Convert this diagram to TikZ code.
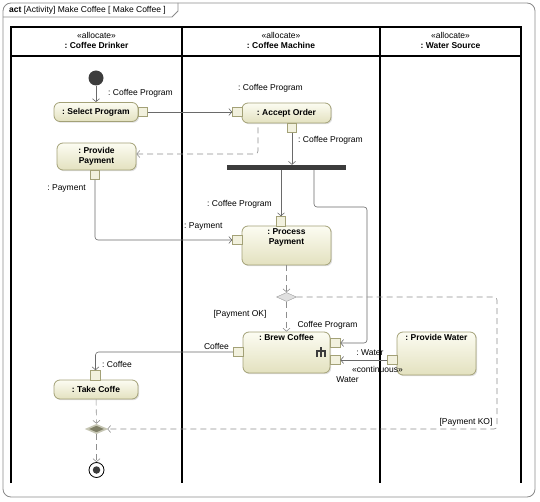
\documentclass[tikz,border=0pt]{standalone}
\usepackage{fontspec}
\setmainfont{Liberation Sans}
\usetikzlibrary{arrows.meta, positioning, shapes.geometric, shadows}
\definecolor{actlight}{HTML}{FCFCF2}
\definecolor{actdark}{HTML}{E3E1BF}
\definecolor{actedge}{HTML}{A3A177}
\definecolor{flowgray}{HTML}{6A6A6A}
\definecolor{ctrlgray}{HTML}{8E8E8E}
\definecolor{framegray}{HTML}{8A8A8A}
\definecolor{nodedark}{HTML}{3C3C3C}
\definecolor{mergedark}{HTML}{7E7E66}
\definecolor{mergeedge}{HTML}{C6C6B4}
\frenchspacing

\begin{document}
\begin{tikzpicture}[x=1pt, y=-1pt,
  every node/.style={font=\fontsize{8.5}{9.5}\selectfont, inner sep=1pt},
  action/.style={rectangle, rounded corners=6pt, top color=actlight, bottom color=actdark,
    draw=actedge, line width=0.8pt, drop shadow={shadow xshift=1.2pt, shadow yshift=-1.2pt, fill=black!25},
    font=\bfseries\fontsize{8.5}{9.5}\selectfont, align=center},
  toptext/.style={label={[anchor=north, yshift=-2pt, align=center,
    font=\bfseries\fontsize{8.5}{9.5}\selectfont]north:{#1}}},
  pin/.style={rectangle, minimum size=9.5pt, inner sep=0pt, fill=actlight!60!actdark, draw=actedge, line width=0.6pt},
  flow/.style={draw=flowgray, line width=0.6pt, rounded corners=3pt, -{Straight Barb[length=3pt,width=7pt]}},
  ctrl/.style={flow, draw=ctrlgray, dash pattern=on 6pt off 4pt},
  lane/.style={draw=black, line width=1.1pt}
]
  \useasboundingbox (0,0) rectangle (540,502);

  % frame and swimlanes
  \draw[framegray, line width=0.8pt, rounded corners=8pt] (3,3) rectangle (535,497);
  \draw[framegray, line width=0.8pt] (3,17) -- (172,17) -- (178,11) -- (178,3);
  \node[anchor=west] (title) at (8,10.5) {\textbf{act} [Activity] Make Coffee [ Make Coffee ]};

  \draw[lane] (11,483) -- (11,27) -- (521,27) -- (521,483);
  \draw[lane] (11,56) -- (521,56);
  \foreach \x in {182,380} \draw[lane] (\x,27) -- (\x,483);
  \foreach \x/\who [count=\i] in {96.5/Coffee Drinker, 281/Coffee Machine, 450.5/Water Source}
    \node[align=center] (lane\i) at (\x,40.5) {«allocate»\\[1pt]\textbf{: \who}};

  % actions
  \node[circle, fill=nodedark, minimum size=15pt, inner sep=0pt] (start) at (96,78) {};
  \node[action, minimum width=84pt, minimum height=19pt] (selprog) at (96,112) {: Select Program};
  \node[pin] (selprogout) at (142.75,112) {};
  \node[action, minimum width=89pt, minimum height=20pt] (accept) at (286.5,113) {: Accept Order};
  \node[pin] (acceptin) at (237.25,112) {};
  \node[pin] (acceptout) at (292,127.75) {};
  \node[action, minimum width=79pt, minimum height=27pt] (provpay) at (96.5,156.5) {: Provide\\Payment};
  \node[pin] (provpayout) at (95,174.75) {};
  \node[rectangle, fill=nodedark, minimum width=119pt, minimum height=5pt, inner sep=0pt] (fork) at (286.5,167.5) {};
  \node[action, minimum width=89pt, minimum height=39pt, toptext={: Process\\Payment}] (procpay) at (286.5,245.5) {};
  \node[pin] (procpayin1) at (281,221.25) {};
  \node[pin] (procpayin2) at (237.25,240) {};
  \node[diamond, minimum width=20pt, minimum height=9pt, inner sep=0pt, fill=black!12, draw=black!40] (okdec) at (286.5,297) {};
  \node[action, minimum width=87pt, minimum height=41pt, toptext={: Brew Coffee}] (brew) at (286.5,352.5) {};
  \node[pin] (brewin1) at (335.25,343) {};
  \node[pin] (brewin2) at (335.25,360) {};
  \node[pin] (brewout) at (238.25,352) {};
  \node[action, minimum width=79pt, minimum height=43pt, toptext={: Provide Water}] (provwater) at (436.5,353.5) {};
  \node[pin] (provwaterout) at (392.25,360) {};
  \node[action, minimum width=84pt, minimum height=19pt] (takecof) at (96,389.5) {: Take Coffe};
  \node[pin] (takecofin) at (95.5,375.25) {};
  \node[diamond, minimum width=20pt, minimum height=9pt, inner sep=0pt, fill=mergedark, draw=mergeedge, line width=1.6pt] (merge) at (96.5,429) {};
  \node[circle, draw=black, fill=white, minimum size=15pt, line width=0.8pt] (stop) at (96.5,470) {};
  \node[circle, fill=nodedark, minimum size=7.5pt, inner sep=0pt] (stopdot) at (stop) {};
  \draw[nodedark, line width=1.1pt] (321,347) -- (321,357) (317,357) -- (317,351) -- (325,351) -- (325,357);

  % flows
  \coordinate (progbend) at (367,207);
  \coordinate (kobend) at (497,429);
  \draw[flow] (start) -- (selprog);
  \draw[flow] (selprogout) -- (acceptin);
  \draw[flow] (acceptout) -- (acceptout |- fork.north);
  \draw[ctrl] ([xshift=-28.5pt,yshift=-4pt]accept.south) |- ([yshift=2.5pt]provpay.east);
  \draw[flow] (procpayin1 |- fork.south) -- (procpayin1);
  \draw[flow] ([xshift=27.5pt]fork.south) |- (progbend) |- (brewin1);
  \draw[flow] (provpayout) |- (procpayin2);
  \draw[ctrl] (procpay) -- (okdec);
  \draw[ctrl] (okdec) -- (brew);
  \draw[ctrl] (okdec.east) -| (kobend) -- (merge.east);
  \draw[flow] (brewout) -| (takecofin);
  \draw[flow] (provwaterout) -- (brewin2);
  \draw[ctrl] (takecof) -- (merge);
  \draw[ctrl] (merge) -- (stop);

  % labels
  \node[anchor=west] (lblsel) at (107,93) {: Coffee Program};
  \node (lblacc) at (270.5,88) {: Coffee Program};
  \node[anchor=west] (lblout) at (297,140) {: Coffee Program};
  \node (lblpay1) at (66.5,188) {: Payment};
  \node[anchor=west] (lblpay2) at (183,226) {: Payment};
  \node (lblproc) at (239.5,204) {: Coffee Program};
  \node (lblok) at (240,314) {[Payment OK]};
  \node (lblbrew) at (327.5,325) {Coffee Program};
  \node (lblcof) at (216.5,346) {Coffee};
  \node[anchor=west] (lbltake) at (101,364) {: Coffee};
  \node (lblwater) at (370,353) {: Water};
  \node (lblcont) at (377.5,369) {«continuous»};
  \node (lblwin) at (347.5,380) {Water};
  \node (lblko) at (466,422) {[Payment KO]};
\end{tikzpicture}
\end{document}
